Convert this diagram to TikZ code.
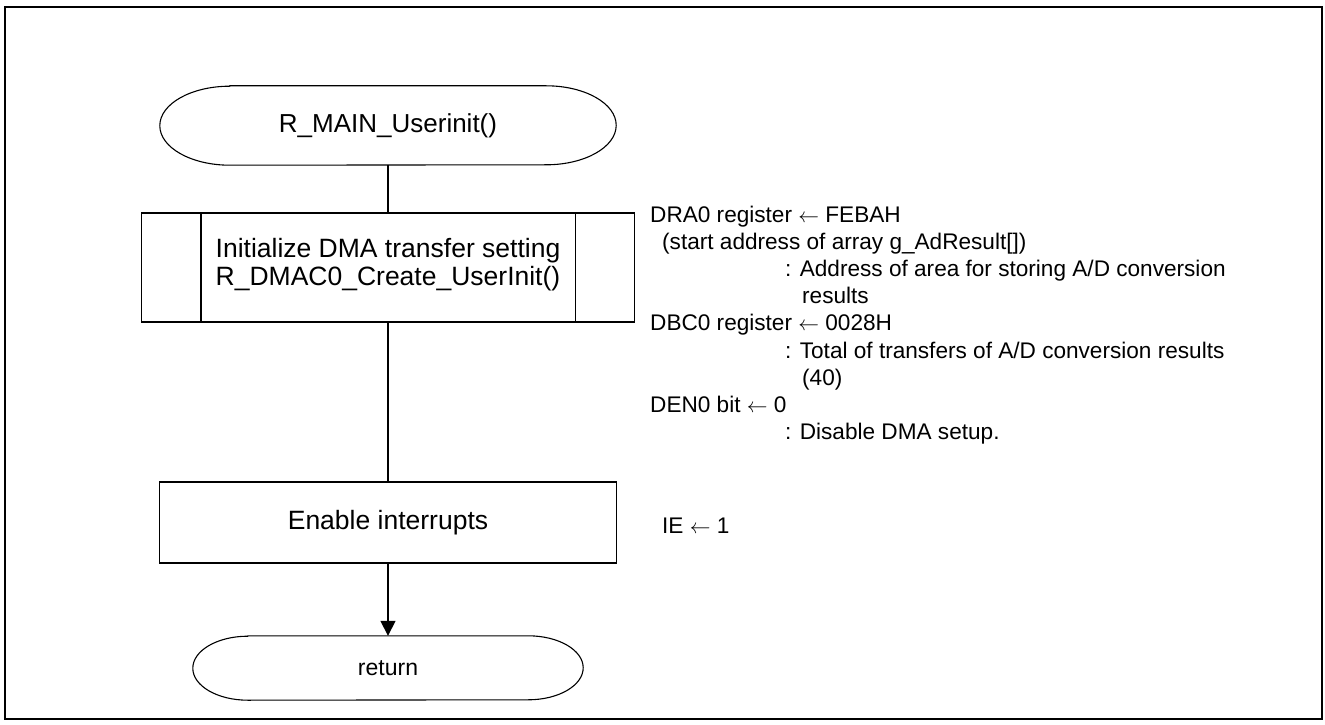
\documentclass[tikz,border=0pt]{standalone}
\usepackage{fontspec}
\setmainfont{Liberation Sans}
\usetikzlibrary{arrows.meta}
\begin{document}
\begin{tikzpicture}[x=1pt,y=1pt,
  boxnode/.style={draw, line width=1.6pt, inner sep=0pt, font=\fontsize{26.5}{28}\selectfont, align=center},
  boxtext/.style={inner sep=0pt, font=\fontsize{26.5}{28}\selectfont, align=center},
  termnode/.style={draw=none, inner sep=0pt, align=center},
  stad/.style={line width=1.1pt},
  boxline/.style={line width=1.6pt},
  conn/.style={line width=1.6pt},
  cmt/.style={anchor=base west, inner sep=0pt, font=\fontsize{22.6}{27}\selectfont}]
\useasboundingbox (0,0) rectangle (1325,724);
\draw[line width=2pt] (5,5) rectangle (1322,717);

% start terminal
\node[termnode, minimum width=456pt, minimum height=79pt, font=\fontsize{26}{28}\selectfont] (start) at (388,598.5) {R\_MAIN\_Userinit()};
\draw[stad] ([xshift=70pt]start.north west) -- ([xshift=-70pt]start.north east)
  arc[start angle=90,end angle=-90,x radius=70pt,y radius=39.5pt]
  -- ([xshift=70pt]start.south west)
  arc[start angle=270,end angle=90,x radius=70pt,y radius=39.5pt] -- cycle;

% predefined process
\node[boxnode, minimum width=493pt, minimum height=109pt] (pp) at (388,456.5) {};
\node[boxtext] (pptext) at ([yshift=3pt]pp.center) {Initialize DMA transfer setting\\R\_DMAC0\_Create\_UserInit()};
\draw[boxline] ([xshift=60pt]pp.north west) -- ([xshift=60pt]pp.south west);
\draw[boxline] ([xshift=-60pt]pp.north east) -- ([xshift=-60pt]pp.south east);

% enable interrupts
\node[boxnode, minimum width=457pt, minimum height=81pt] (en) at (388,201.5) {Enable interrupts};

% return terminal
\node[termnode, minimum width=390pt, minimum height=64pt, font=\fontsize{23}{26}\selectfont] (ret) at (388,56) {return};
\draw[stad] ([xshift=55pt]ret.north west) -- ([xshift=-55pt]ret.north east)
  arc[start angle=90,end angle=-90,x radius=55pt,y radius=32pt]
  -- ([xshift=55pt]ret.south west)
  arc[start angle=270,end angle=90,x radius=55pt,y radius=32pt] -- cycle;

% connectors
\draw[conn] (start.south) -- (pp.north);
\draw[conn] (pp.south) -- (en.north);
\draw[conn, -{Triangle[length=15pt,width=15pt]}] (en.south) -- (ret.north);

% comments
\node[cmt] (c1) at (650,501) {DRA0 register $\leftarrow$ FEBAH};
\node[cmt] (c2) at (662,474) {(start address of array g\_AdResult[])};
\node[cmt] (c3) at (785,447) {: Address of area for storing A/D conversion};
\node[cmt] (c4) at (802,420) {results};
\node[cmt] (c5) at (650,393) {DBC0 register $\leftarrow$ 0028H};
\node[cmt] (c6) at (785,366) {: Total of transfers of A/D conversion results};
\node[cmt] (c7) at (802,339) {(40)};
\node[cmt] (c8) at (650,312) {DEN0 bit $\leftarrow$ 0};
\node[cmt] (c9) at (785,285) {: Disable DMA setup.};
\node[cmt] (ie) at (662,191) {IE $\leftarrow$ 1};
\end{tikzpicture}
\end{document}
